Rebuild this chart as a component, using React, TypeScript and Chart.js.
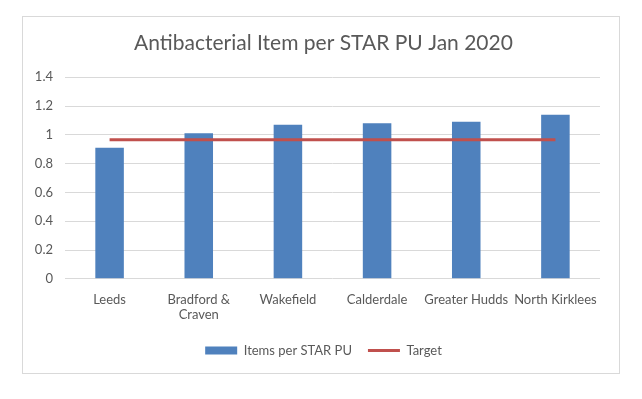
import React, { useEffect, useRef } from "react";
import { Chart, registerables } from "chart.js";

Chart.register(...registerables);

const categories: (string | string[])[] = [
  "Leeds",
  ["Bradford &", "Craven"],
  "Wakefield",
  "Calderdale",
  "Greater Hudds",
  "North Kirklees",
];
const itemsPerStarPu = [0.91, 1.01, 1.07, 1.08, 1.09, 1.14];
const target = [0.965, 0.965, 0.965, 0.965, 0.965, 0.965];
const yTicks = { min: 0, max: 1.4, step: 0.2 };
const titleText = "Antibacterial Item per STAR PU Jan 2020";

const FONT = "Lato, 'Open Sans', sans-serif";
const TEXT = "#595959";

export default function App() {
  const ref = useRef<HTMLCanvasElement | null>(null);
  useEffect(() => {
    if (!ref.current) return;
    const chart = new Chart(ref.current, {
      type: "bar",
      data: {
        labels: categories,
        datasets: [
          {
            type: "bar",
            label: "Items per STAR PU",
            data: itemsPerStarPu,
            backgroundColor: "#4F81BD",
            borderColor: "#4F81BD",
            borderWidth: 0,
            barPercentage: 0.32,
            categoryPercentage: 1,
            pointStyle: "rect",
            order: 2,
          } as any,
          {
            type: "line",
            label: "Target",
            data: target,
            borderColor: "#C0504D",
            backgroundColor: "#C0504D",
            borderWidth: 3,
            pointRadius: 0,
            pointStyle: "line",
            order: 1,
          } as any,
        ],
      },
      options: {
        responsive: true,
        maintainAspectRatio: false,
        animation: false,
        layout: { padding: { left: 5, right: 0, top: 8, bottom: 6 } },
        plugins: {
          title: {
            display: true,
            text: titleText,
            color: TEXT,
            font: { family: FONT, size: 21, weight: "normal" },
            padding: { top: 6, bottom: 21 },
          },
          legend: {
            position: "bottom",
            labels: {
              color: TEXT,
              font: { family: FONT, size: 13 },
              usePointStyle: true,
              pointStyleWidth: 32,
              boxHeight: 8,
              padding: 16,
              sort: (a: any, b: any) => a.datasetIndex - b.datasetIndex,
            },
          },
          tooltip: { enabled: false },
        },
        scales: {
          x: {
            grid: { display: false },
            border: { display: false },
            ticks: {
              color: TEXT,
              font: { family: FONT, size: 13 },
              autoSkip: false,
              maxRotation: 0,
              minRotation: 0,
              padding: 5,
            },
          },
          y: {
            min: yTicks.min,
            max: yTicks.max,
            border: { display: false },
            grid: { color: "#D9D9D9", lineWidth: 1, drawTicks: false },
            ticks: {
              stepSize: yTicks.step,
              color: TEXT,
              font: { family: FONT, size: 13 },
              padding: 12,
              callback: (v: any) => String(Number(Number(v).toFixed(1))),
            },
            afterFit: (s: any) => {
              s.width = 37;
            },
          },
          yRight: {
            position: "right",
            display: true,
            grid: { display: false, drawTicks: false },
            border: { display: false },
            ticks: { display: false },
            afterFit: (s: any) => {
              s.width = 19;
            },
          },
        },
      },
    });
    return () => chart.destroy();
  }, []);
  return (
    <div
      style={{
        position: "absolute",
        left: 22,
        top: 16,
        width: 596,
        height: 356,
        border: "1px solid #D9D9D9",
        background: "#fff",
      }}
    >
      <canvas ref={ref} />
    </div>
  );
}
